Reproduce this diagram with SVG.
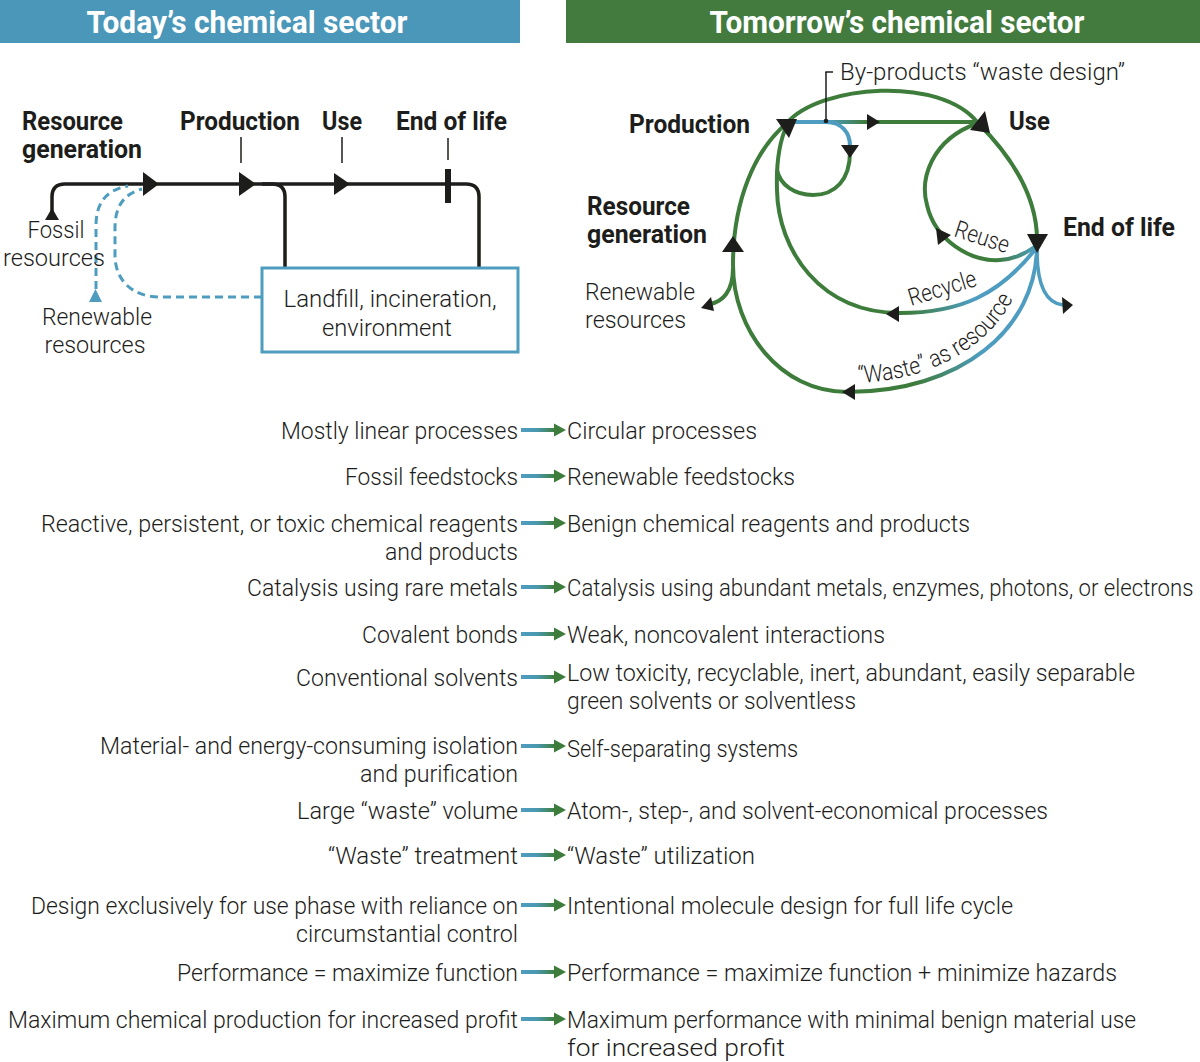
<svg xmlns="http://www.w3.org/2000/svg" xmlns:xlink="http://www.w3.org/1999/xlink" width="1200" height="1062" viewBox="0 0 1200 1062">
<defs>
<style>
.t{font-family:"Roboto","Liberation Sans Narrow","Liberation Sans",sans-serif;font-size:24px;font-weight:300;fill:#1d1d1b}
.b{font-weight:bold;font-size:25px}
.h{font-weight:bold;font-size:31px;fill:#ffffff}
.e{text-anchor:end}
.m{text-anchor:middle}
.k{stroke:#1d1d1b;stroke-width:3.5;fill:none}
.dash{stroke:#4e9dbf;stroke-width:3;fill:none;stroke-dasharray:8 5}
.g{stroke:#3d7c3b;stroke-width:4;fill:none}
.ah{fill:#1d1d1b}
</style>
<linearGradient id="tg" gradientUnits="userSpaceOnUse" x1="521" y1="0" x2="566" y2="0">
<stop offset="0" stop-color="#4e9dc0"/><stop offset="0.35" stop-color="#4a98b0"/><stop offset="0.75" stop-color="#3e7f3e"/><stop offset="1" stop-color="#3d7c3b"/>
</linearGradient>
<linearGradient id="gTop" gradientUnits="userSpaceOnUse" x1="790" y1="0" x2="978" y2="0">
<stop offset="0.2" stop-color="#4e9dc0"/><stop offset="0.4" stop-color="#3d7c3b"/>
</linearGradient>
<linearGradient id="gRec" gradientUnits="userSpaceOnUse" x1="1037" y1="0" x2="777" y2="0">
<stop offset="0.25" stop-color="#4e9dc0"/><stop offset="0.5" stop-color="#3d7c3b"/>
</linearGradient>
<linearGradient id="gWas" gradientUnits="userSpaceOnUse" x1="1037" y1="250" x2="847" y2="392">
<stop offset="0.45" stop-color="#4e9dc0"/><stop offset="0.75" stop-color="#3d7c3b"/>
</linearGradient>
<linearGradient id="gReu" gradientUnits="userSpaceOnUse" x1="1037" y1="0" x2="920" y2="0">
<stop offset="0" stop-color="#4e9dc0"/><stop offset="0.35" stop-color="#3d7c3b"/>
</linearGradient>
<linearGradient id="gLoop" gradientUnits="userSpaceOnUse" x1="0" y1="122" x2="0" y2="160">
<stop offset="0.6" stop-color="#4e9dc0"/><stop offset="1" stop-color="#3d7c3b"/>
</linearGradient>
<g id="tarr">
<rect x="521" y="-2" width="35" height="4" fill="url(#tg)"/>
<polygon points="554,-6.5 566,0 554,6.5" fill="#3d7c3b"/>
</g>
<path id="wpath" d="M850,383 C 950,383 1027,325 1027,240"/>
</defs>

<g id="header-today">
<rect x="0" y="0" width="520" height="43" fill="#4b97b9"/>
<text class="t h m" x="247" y="33" textLength="321" lengthAdjust="spacingAndGlyphs">Today’s chemical sector</text>
</g>
<g id="header-tomorrow">
<rect x="566" y="0" width="634" height="43" fill="#437b3f"/>
<text class="t h m" x="897" y="33" textLength="375" lengthAdjust="spacingAndGlyphs">Tomorrow’s chemical sector</text>
</g>

<!-- Today's diagram -->
<g id="today-connectors">
<path class="k" d="M52,212 V197 Q52,184 65,184 H466 Q479,184 479,197 V268"/>
<path class="k" d="M262,184 H272 Q285,184 285,197 V268"/>
<line x1="241" y1="137" x2="241" y2="163" stroke="#1d1d1b" stroke-width="1.5"/>
<line x1="342" y1="137" x2="342" y2="163" stroke="#1d1d1b" stroke-width="1.5"/>
<line x1="448" y1="138" x2="448" y2="160" stroke="#1d1d1b" stroke-width="1.5"/>
<rect x="445" y="169" width="6" height="34" fill="#1d1d1b"/>
<polygon class="ah" points="143,172 143,196 159,184"/>
<polygon class="ah" points="239,172 239,196 256,184"/>
<polygon class="ah" points="334,173 334,195 350,184"/>
<polygon class="ah" points="45,220 59,220 52,208"/>
<path class="dash" d="M96,289 V226 C96,203 106,190 128,186"/>
<path class="dash" d="M262,297 H160 C132,297 115,280 115,255 V228 C115,206 124,194 142,189"/>
<polygon points="89,302 102,302 95.5,289" fill="#4e9dbf"/>
</g>
<g id="today-resource">
<text class="t b" x="22" y="130" textLength="101" lengthAdjust="spacingAndGlyphs">Resource</text>
<text class="t b" x="22" y="158" textLength="120" lengthAdjust="spacingAndGlyphs">generation</text>
</g>
<g id="today-production"><text class="t b" x="180" y="130" textLength="120" lengthAdjust="spacingAndGlyphs">Production</text></g>
<g id="today-use"><text class="t b" x="322" y="130" textLength="40" lengthAdjust="spacingAndGlyphs">Use</text></g>
<g id="today-endoflife"><text class="t b" x="396" y="130" textLength="111" lengthAdjust="spacingAndGlyphs">End of life</text></g>
<g id="today-fossil">
<text class="t m" x="56" y="238" textLength="57" lengthAdjust="spacingAndGlyphs">Fossil</text>
<text class="t m" x="54" y="266" textLength="102" lengthAdjust="spacingAndGlyphs">resources</text>
</g>
<g id="today-renewable">
<text class="t m" x="97" y="325" textLength="110" lengthAdjust="spacingAndGlyphs">Renewable</text>
<text class="t m" x="95" y="353" textLength="101" lengthAdjust="spacingAndGlyphs">resources</text>
</g>
<g id="today-landfill">
<rect x="262" y="268" width="256" height="84" fill="#ffffff" stroke="#4e9dbf" stroke-width="3"/>
<text class="t m" x="390" y="307" textLength="213" lengthAdjust="spacingAndGlyphs">Landfill, incineration,</text>
<text class="t m" x="387" y="336" textLength="130" lengthAdjust="spacingAndGlyphs">environment</text>
</g>

<!-- Tomorrow's diagram -->
<g id="tomorrow-connectors">
<path class="g" d="M787,123 C 820,85 940,75 978,123"/>
<path class="g" d="M978,123 C 1005,150 1037,190 1037,240"/>
<path class="g" d="M847,392 C 780,392 733,330 733,265 C 733,200 755,150 787,123"/>
<path class="g" d="M733,268 C 733,292 722,302 710,304"/>
<path fill="none" stroke="url(#gWas)" stroke-width="4" d="M1037,245 C 1037,330 960,392 847,392"/>
<path fill="none" stroke="url(#gRec)" stroke-width="4" d="M1037,247 C 1000,295 960,313 900,313 C 820,313 778,250 777,190 C 776,160 780,140 787,125"/>
<path fill="none" stroke="url(#gReu)" stroke-width="4" d="M978,123 C 930,140 920,180 927,205 C 935,240 970,262 1000,260 C 1015,259 1028,252 1036,246"/>
<path fill="none" stroke="url(#gTop)" stroke-width="4" d="M790,122 H978"/>
<path fill="none" stroke="url(#gLoop)" stroke-width="4" d="M826,122 C 842,122 850,133 850,146"/>
<path class="g" d="M850,152 C 850,180 835,195 813,195 C 795,195 780,185 777,170"/>
<path fill="none" stroke="#4e9dc0" stroke-width="3.5" d="M1037,250 C 1037,282 1045,303 1063,305"/>
<line x1="826" y1="72" x2="826" y2="120" stroke="#1d1d1b" stroke-width="1.5"/>
<line x1="825.3" y1="72" x2="833" y2="72" stroke="#1d1d1b" stroke-width="1.5"/>
<circle cx="826" cy="121" r="2.3" fill="#1d1d1b"/>
<polygon class="ah" points="776,119 797,119 789,138"/>
<polygon class="ah" points="970,130 985,111 990,133"/>
<polygon class="ah" points="867,114 867,130 880,122"/>
<polygon class="ah" points="841,145 859,145 850,158"/>
<polygon class="ah" points="1027,234 1048,234 1037,253"/>
<polygon class="ah" points="722,252 744,252 733,236"/>
<polygon class="ah" points="936,228 951,235 938,245"/>
<polygon class="ah" points="886,314 899,306 899,322"/>
<polygon class="ah" points="842,392 855,384 855,400"/>
<polygon class="ah" points="701,308 711,297 714,311"/>
<polygon class="ah" points="1073,305 1062,297 1063,314"/>
</g>
<g id="tomorrow-byproducts"><text class="t" x="840" y="80" font-size="25" textLength="285" lengthAdjust="spacingAndGlyphs">By-products “waste design”</text></g>
<g id="tomorrow-production"><text class="t b" x="629" y="133" textLength="121" lengthAdjust="spacingAndGlyphs">Production</text></g>
<g id="tomorrow-use"><text class="t b" x="1009" y="130" textLength="41" lengthAdjust="spacingAndGlyphs">Use</text></g>
<g id="tomorrow-resource">
<text class="t b" x="587" y="215" textLength="103" lengthAdjust="spacingAndGlyphs">Resource</text>
<text class="t b" x="587" y="243" textLength="120" lengthAdjust="spacingAndGlyphs">generation</text>
</g>
<g id="tomorrow-endoflife"><text class="t b" x="1063" y="236" textLength="112" lengthAdjust="spacingAndGlyphs">End of life</text></g>
<g id="tomorrow-renewable">
<text class="t" x="585" y="300" textLength="110" lengthAdjust="spacingAndGlyphs">Renewable</text>
<text class="t" x="585" y="328" textLength="101" lengthAdjust="spacingAndGlyphs">resources</text>
</g>
<g id="tomorrow-labels">
<text class="t" font-size="22" transform="translate(953,236) rotate(18)" textLength="56" lengthAdjust="spacingAndGlyphs">Reuse</text>
<text class="t" font-size="22" transform="translate(911,306) rotate(-17)" textLength="70" lengthAdjust="spacingAndGlyphs">Recycle</text>
<text class="t" font-size="22"><textPath xlink:href="#wpath" href="#wpath" startOffset="8" textLength="185" lengthAdjust="spacingAndGlyphs">“Waste” as resource</textPath></text>
</g>

<!-- Comparison table -->
<g id="table-arrows">
<use href="#tarr" xlink:href="#tarr" y="430"/>
<use href="#tarr" xlink:href="#tarr" y="476"/>
<use href="#tarr" xlink:href="#tarr" y="523"/>
<use href="#tarr" xlink:href="#tarr" y="587"/>
<use href="#tarr" xlink:href="#tarr" y="634"/>
<use href="#tarr" xlink:href="#tarr" y="677"/>
<use href="#tarr" xlink:href="#tarr" y="746"/>
<use href="#tarr" xlink:href="#tarr" y="810"/>
<use href="#tarr" xlink:href="#tarr" y="855"/>
<use href="#tarr" xlink:href="#tarr" y="905"/>
<use href="#tarr" xlink:href="#tarr" y="972"/>
<use href="#tarr" xlink:href="#tarr" y="1019"/>
</g>
<g id="table-today">
<text class="t e" x="518" y="439" textLength="237" lengthAdjust="spacingAndGlyphs">Mostly linear processes</text>
<text class="t e" x="518" y="485" textLength="173" lengthAdjust="spacingAndGlyphs">Fossil feedstocks</text>
<text class="t e" x="518" y="532" textLength="477" lengthAdjust="spacingAndGlyphs">Reactive, persistent, or toxic chemical reagents</text>
<text class="t e" x="518" y="560" textLength="133" lengthAdjust="spacingAndGlyphs">and products</text>
<text class="t e" x="518" y="596" textLength="271" lengthAdjust="spacingAndGlyphs">Catalysis using rare metals</text>
<text class="t e" x="518" y="643" textLength="156" lengthAdjust="spacingAndGlyphs">Covalent bonds</text>
<text class="t e" x="518" y="686" textLength="222" lengthAdjust="spacingAndGlyphs">Conventional solvents</text>
<text class="t e" x="518" y="754" textLength="418" lengthAdjust="spacingAndGlyphs">Material- and energy-consuming isolation</text>
<text class="t e" x="518" y="782" textLength="158" lengthAdjust="spacingAndGlyphs">and purification</text>
<text class="t e" x="518" y="819" textLength="221" lengthAdjust="spacingAndGlyphs">Large “waste” volume</text>
<text class="t e" x="518" y="864" textLength="190" lengthAdjust="spacingAndGlyphs">“Waste” treatment</text>
<text class="t e" x="518" y="914" textLength="487" lengthAdjust="spacingAndGlyphs">Design exclusively for use phase with reliance on</text>
<text class="t e" x="518" y="942" textLength="222" lengthAdjust="spacingAndGlyphs">circumstantial control</text>
<text class="t e" x="518" y="981" textLength="341" lengthAdjust="spacingAndGlyphs">Performance = maximize function</text>
<text class="t e" x="518" y="1028" textLength="510" lengthAdjust="spacingAndGlyphs">Maximum chemical production for increased profit</text>
</g>
<g id="table-tomorrow">
<text class="t" x="567" y="439" textLength="190" lengthAdjust="spacingAndGlyphs">Circular processes</text>
<text class="t" x="567" y="485" textLength="228" lengthAdjust="spacingAndGlyphs">Renewable feedstocks</text>
<text class="t" x="567" y="532" textLength="403" lengthAdjust="spacingAndGlyphs">Benign chemical reagents and products</text>
<text class="t" transform="translate(567,596) scale(0.9,1)" textLength="696" lengthAdjust="spacingAndGlyphs">Catalysis using abundant metals, enzymes, photons, or electrons</text>
<text class="t" x="567" y="643" textLength="318" lengthAdjust="spacingAndGlyphs">Weak, noncovalent interactions</text>
<text class="t" x="567" y="681" textLength="568" lengthAdjust="spacingAndGlyphs">Low toxicity, recyclable, inert, abundant, easily separable</text>
<text class="t" x="567" y="709" textLength="289" lengthAdjust="spacingAndGlyphs">green solvents or solventless</text>
<text class="t" x="567" y="757" textLength="231" lengthAdjust="spacingAndGlyphs">Self-separating systems</text>
<text class="t" x="567" y="819" textLength="481" lengthAdjust="spacingAndGlyphs">Atom-, step-, and solvent-economical processes</text>
<text class="t" x="567" y="864" textLength="188" lengthAdjust="spacingAndGlyphs">“Waste” utilization</text>
<text class="t" x="567" y="914" textLength="446" lengthAdjust="spacingAndGlyphs">Intentional molecule design for full life cycle</text>
<text class="t" x="567" y="981" textLength="550" lengthAdjust="spacingAndGlyphs">Performance = maximize function + minimize hazards</text>
<text class="t" x="567" y="1028" textLength="569" lengthAdjust="spacingAndGlyphs">Maximum performance with minimal benign material use</text>
<text class="t" x="567" y="1056" textLength="218" lengthAdjust="spacingAndGlyphs">for increased profit</text>
</g>
</svg>
